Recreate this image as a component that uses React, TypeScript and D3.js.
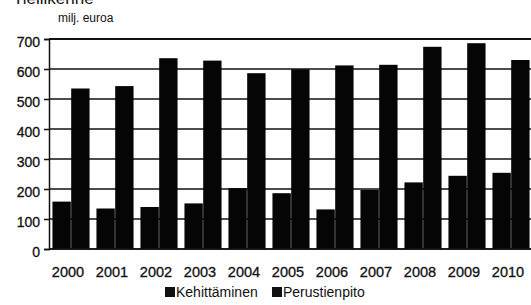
import React, { useRef, useEffect } from 'react';
import * as d3 from 'd3';

const years = ['2000', '2001', '2002', '2003', '2004', '2005', '2006', '2007', '2008', '2009', '2010'];
const kehittaminen = [158, 135, 140, 152, 203, 186, 132, 197, 222, 244, 254];
const perustienpito = [535, 543, 636, 628, 586, 599, 612, 614, 674, 686, 630];
const yTicks = [0, 100, 200, 300, 400, 500, 600, 700];
const seriesNames = ['Kehittäminen', 'Perustienpito'];

const W = 531;
const H = 305;

const App = () => {
  const ref = useRef<SVGSVGElement | null>(null);

  useEffect(() => {
    if (!ref.current) return;
    const svg = d3.select(ref.current);
    svg.selectAll('*').remove();

    const font = '"Liberation Sans", Arial, sans-serif';
    const left = 49;
    const top = 39;
    const bottom = 249;
    const right = left + 44 * years.length;

    // title, cut off by the top edge as in the scan
    svg.append('text')
      .attr('x', 13)
      .attr('y', 4)
      .attr('font-family', font)
      .attr('font-size', 17)
      .attr('fill', '#111')
      .text('Tieliikenne');

    svg.append('text')
      .attr('x', 58)
      .attr('y', 22)
      .attr('font-family', font)
      .attr('font-size', 12)
      .attr('fill', '#111')
      .text('milj. euroa');

    const x = d3.scaleBand<string>().domain(years).range([left, right]).paddingInner(0.14).paddingOuter(0.07);
    const inner = d3.scaleBand<string>().domain(seriesNames).range([0, x.bandwidth()]).padding(0.02);
    const y = d3.scaleLinear().domain([0, 700]).range([bottom, top]);

    // grid lines
    svg.append('g')
      .selectAll('line')
      .data(yTicks)
      .enter()
      .append('line')
      .attr('x1', left)
      .attr('x2', W)
      .attr('y1', d => y(d))
      .attr('y2', d => y(d))
      .attr('stroke', '#111')
      .attr('stroke-width', d => (d === 700 ? 2 : 1.5));

    // y axis
    const yAxis = svg.append('g')
      .attr('transform', `translate(${left},0)`)
      .call(d3.axisLeft(y).tickValues(yTicks).tickSize(5).tickPadding(4));
    yAxis.select('.domain').attr('stroke', '#111').attr('stroke-width', 1.5);
    yAxis.selectAll('.tick line').attr('stroke', '#111').attr('stroke-width', 1.5);
    yAxis.selectAll('text')
      .attr('font-family', font)
      .attr('font-size', 14)
      .attr('dy', '0.5em')
      .attr('fill', '#111')
      .attr('stroke', '#111')
      .attr('stroke-width', 0.3);

    // bars
    const rows = years.map((yr, i) => ({ yr, vals: [kehittaminen[i], perustienpito[i]] }));
    const groups = svg.append('g')
      .selectAll('g')
      .data(rows)
      .enter()
      .append('g')
      .attr('transform', d => `translate(${x(d.yr)},0)`);
    groups.selectAll('rect')
      .data(d => d.vals.map((v, j) => ({ name: seriesNames[j], v })))
      .enter()
      .append('rect')
      .attr('x', d => inner(d.name)!)
      .attr('width', inner.bandwidth())
      .attr('y', d => y(d.v))
      .attr('height', d => bottom - y(d.v))
      .attr('fill', '#050505');

    // x axis
    svg.append('line')
      .attr('x1', left)
      .attr('x2', W)
      .attr('y1', bottom)
      .attr('y2', bottom)
      .attr('stroke', '#111')
      .attr('stroke-width', 1.5);

    svg.append('g')
      .selectAll('text')
      .data(years)
      .enter()
      .append('text')
      .attr('x', d => x(d)! + x.bandwidth() / 2 - 3)
      .attr('y', 277)
      .attr('text-anchor', 'middle')
      .attr('font-family', font)
      .attr('font-size', 14.5)
      .attr('fill', '#111')
      .attr('stroke', '#111')
      .attr('stroke-width', 0.3)
      .text(d => d);

    // legend
    const legendX = [165, 272];
    const lg = svg.append('g')
      .selectAll('g')
      .data(seriesNames)
      .enter()
      .append('g')
      .attr('transform', (d, i) => `translate(${legendX[i]},297)`);
    lg.append('rect')
      .attr('x', 0)
      .attr('y', -10)
      .attr('width', 10)
      .attr('height', 10)
      .attr('fill', '#111');
    lg.append('text')
      .attr('x', 11)
      .attr('y', 0)
      .attr('font-family', font)
      .attr('font-size', 14)
      .attr('fill', '#111')
      .text(d => d);
  }, []);

  return (
    <svg
      ref={ref}
      width={W}
      height={H}
      style={{ position: 'absolute', left: 0, top: 0, background: '#fff' }}
    />
  );
};

export default App;
